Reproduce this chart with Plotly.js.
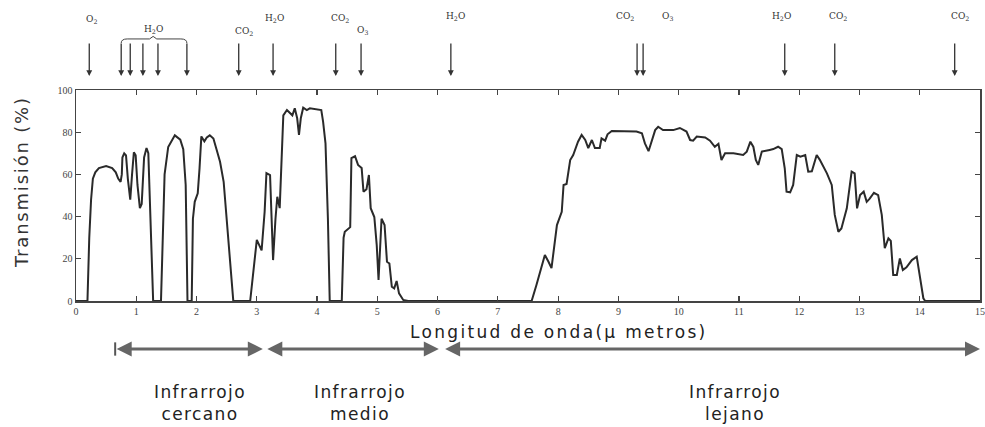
<!DOCTYPE html>
<html>
<head>
<meta charset="utf-8">
<script src="https://cdn.plot.ly/plotly-3.0.1.min.js"></script>
<style>
html,body{margin:0;padding:0;background:#fff;}
#chart{width:985px;height:427px;}
.annotation[data-index="29"] text, .annotation[data-index="31"] text, .annotation[data-index="33"] text {letter-spacing:1.4px;}
.annotation[data-index="34"] text {letter-spacing:2.3px;}
.annotation[data-index="35"] text {letter-spacing:1.8px;}
</style>
</head>
<body>
<div id="chart"></div>
<script>
// Wavelength (µm) and transmission (%)
const wavelength = [
  0, 0.19, 0.22, 0.25, 0.28, 0.32, 0.38, 0.5, 0.6, 0.66, 0.7, 0.74, 0.76, 0.77, 0.8, 0.83, 0.86, 0.9, 0.93, 0.96, 0.99, 1.02, 1.06, 1.09, 1.13, 1.17, 1.2, 1.23, 1.28,
  1.41, 1.44, 1.47, 1.53, 1.64, 1.73, 1.78, 1.82, 1.85,
  1.92, 1.94, 1.97, 2.02, 2.05, 2.08, 2.13, 2.17, 2.22, 2.28, 2.33, 2.39, 2.45, 2.5, 2.54, 2.61,
  2.89, 2.94, 3.0, 3.04, 3.08, 3.13, 3.16, 3.22, 3.25, 3.27, 3.31, 3.34, 3.38, 3.41, 3.44, 3.5, 3.55, 3.59, 3.63, 3.67, 3.7, 3.73, 3.77, 3.83, 3.88, 3.99, 4.07, 4.1, 4.14, 4.18, 4.21,
  4.41, 4.44, 4.46, 4.52, 4.55, 4.57, 4.63, 4.68, 4.74, 4.77, 4.82, 4.86, 4.89, 4.95, 4.99, 5.02, 5.04, 5.07, 5.12, 5.16, 5.2, 5.24, 5.28, 5.32, 5.36, 5.43, 5.51,
  7.56, 7.64, 7.73, 7.78, 7.84, 7.89, 7.98, 8.06, 8.09, 8.14, 8.2, 8.25, 8.33, 8.39, 8.45, 8.5, 8.56, 8.61, 8.69, 8.72, 8.78, 8.82, 8.89, 9.08, 9.3, 9.39, 9.44, 9.5, 9.55, 9.61, 9.66, 9.74, 9.91, 10.02, 10.13, 10.19, 10.24, 10.3, 10.44, 10.52, 10.6, 10.66, 10.71, 10.77,
  10.91, 11.07, 11.13, 11.19, 11.24, 11.28, 11.32, 11.38, 11.51, 11.57, 11.65, 11.71, 11.76, 11.79, 11.85, 11.9, 11.96, 12.02, 12.1, 12.15, 12.21, 12.29, 12.34, 12.46, 12.54, 12.59, 12.65, 12.7, 12.79, 12.87, 12.92, 12.96, 13.01, 13.07, 13.12, 13.17, 13.24, 13.31, 13.37, 13.42, 13.48, 13.52, 13.56, 13.62, 13.67, 13.72, 13.78, 13.87, 13.95, 13.99, 14.06, 14.09, 15
];
const transmission = [
  0, 0, 30, 48, 58, 61, 63, 64, 63, 61, 58, 56.5, 60, 68, 70, 69, 58, 48, 60, 70.5, 69, 55, 44, 46, 68, 72.5, 70, 45, 0,
  0, 35, 60, 73, 78.5, 76.5, 72, 55, 0,
  0, 39, 47, 51, 63, 78, 75.7, 77.5, 78.5, 77, 72, 66, 56.5, 39, 23, 0,
  0, 13.9, 29, 26.5, 24, 42.3, 60.6, 59.7, 39, 19.4, 39, 49.4, 44, 70.8, 88, 90.5, 89.3, 88, 91.3, 86.6, 78.7, 86.6, 91.6, 90.5, 91.3, 91, 90.5, 85, 74.7, 39, 0,
  0, 30, 32.8, 34.4, 35, 67.7, 68.6, 64.5, 63, 51.8, 53, 59.7, 44, 39.8, 26.5, 10, 23.7, 39, 36, 18.6, 17.8, 6.8, 6, 9.5, 3.6, 0.5, 0,
  0, 7.6, 17, 21.8, 18.6, 15.6, 36, 42.3, 55, 55.5, 66.8, 69.2, 75.5, 78.7, 76.3, 72.5, 76.3, 72.5, 72.5, 77.1, 76, 79, 80.6, 80.6, 80.3, 79.5, 74.7, 71, 75.5, 81, 82.6, 81, 81, 82, 80.3, 76.3, 76, 77.9, 77.5, 76, 73.1, 74.5, 66.8, 70,
  70, 69.2, 70.8, 75.5, 73, 66.8, 64.5, 70.8, 71.6, 72, 73.1, 72, 62.9, 51.8, 51.5, 55, 69.2, 68.4, 69.2, 61.3, 61.5, 69.2, 67, 60.5, 55, 40.8, 32.8, 34.4, 43.9, 61.3, 60.5, 43.9, 50.2, 51.8, 47, 48.5, 51.3, 50.2, 40.8, 25, 29.7, 28.5, 12.3, 12.3, 20.2, 14.7, 16, 19.4, 21, 13.9, 1.3, 0, 0
];

// Absorbing gases marked above the chart
const gasNames = ["O<sub>2</sub>", "H<sub>2</sub>O", "CO<sub>2</sub>", "H<sub>2</sub>O", "CO<sub>2</sub>", "O<sub>3</sub>", "H<sub>2</sub>O", "CO<sub>2</sub>", "O<sub>3</sub>", "H<sub>2</sub>O", "CO<sub>2</sub>", "CO<sub>2</sub>"];
const gasLabelX = [0.25, 1.28, 2.79, 3.30, 4.38, 4.75, 6.29, 9.11, 9.81, 11.71, 12.64, 14.67];
const absorptionLines = [0.22, 0.75, 0.90, 1.11, 1.36, 1.84, 2.70, 3.27, 4.31, 4.73, 6.22, 9.31, 9.41, 11.76, 12.59, 14.58];

// Infrared regions
const regionNames = ["Infrarrojo<br>cercano", "Infrarrojo<br>medio", "Infrarrojo<br>lejano"];
const regionStart = [0.65, 3.15, 6.1];
const regionEnd = [3.1, 6.02, 15.0];
const regionLabelX = [2.06, 4.71, 10.93];

// paper-y positions for the label rows (layout only)
const labelRowY = [1.334, 1.289, 1.275, 1.341, 1.341, 1.280, 1.346, 1.346, 1.346, 1.346, 1.346, 1.346];

const annotations = [];
const shapes = [];

gasNames.forEach((g, i) => {
  annotations.push({
    x: gasLabelX[i], y: labelRowY[i], xref: 'x', yref: 'paper', yanchor: 'middle', xanchor: 'center',
    text: g, showarrow: false,
    font: {family: 'DejaVu Serif', size: 9, color: '#333'}
  });
});
absorptionLines.forEach(w => {
  annotations.push({
    x: w, y: 1.066, xref: 'x', yref: 'paper',
    ax: 0, ay: -34, axref: 'pixel', ayref: 'pixel',
    text: '', showarrow: true, arrowhead: 2, arrowsize: 0.9, arrowwidth: 1.3, arrowcolor: '#333'
  });
});
// H2O bracket
shapes.push({
  type: 'path', xref: 'x', yref: 'paper',
  path: 'M 0.75 1.222 Q 0.75 1.242 0.85 1.242 L 1.22 1.242 L 1.28 1.254 L 1.34 1.242 L 1.74 1.242 Q 1.84 1.242 1.84 1.222',
  line: {color: '#444', width: 1}
});

regionNames.forEach((r, i) => {
  annotations.push({
    x: regionEnd[i], y: -0.2275, xref: 'x', yref: 'paper',
    ax: regionStart[i], ay: 0, axref: 'x', ayref: 'pixel',
    text: '', showarrow: true, arrowside: 'end+start', arrowhead: 2, arrowsize: 1, arrowwidth: 3, arrowcolor: '#666'
  });
  annotations.push({
    x: regionLabelX[i], y: -0.485, xref: 'x', yref: 'paper', yanchor: 'middle', xanchor: 'center',
    text: r, showarrow: false,
    font: {family: 'DejaVu Sans', size: 17, color: '#222'}
  });
});
shapes.push({type: 'line', xref: 'x', yref: 'paper', x0: regionStart[0], x1: regionStart[0], y0: -0.196, y1: -0.259, line: {color: '#555', width: 2}});

annotations.push({
  x: 8.01, y: -0.147, xref: 'x', yref: 'paper', yanchor: 'middle', xanchor: 'center', text: 'Longitud de onda(µ metros)', showarrow: false,
  font: {family: 'DejaVu Sans', size: 17, color: '#222'}
});
annotations.push({
  x: -0.06, y: 0.565, xref: 'paper', yref: 'paper', yanchor: 'middle', xanchor: 'center', text: 'Transmisión (%)', showarrow: false, textangle: -90,
  font: {family: 'DejaVu Sans', size: 18, color: '#333'}
});

const trace = {
  x: wavelength, y: transmission, type: 'scatter', mode: 'lines',
  line: {color: '#2a2a2a', width: 2}, hoverinfo: 'skip'
};

const layout = {
  width: 985, height: 427,
  margin: {l: 76, r: 5, t: 90, b: 126},
  paper_bgcolor: '#fff', plot_bgcolor: '#fff',
  showlegend: false,
  xaxis: {
    range: [0, 15], tickvals: [0,1,2,3,4,5,6,7,8,9,10,11,12,13,14,15],
    ticks: 'inside', ticklen: 5, tickwidth: 1.2, tickcolor: '#444',
    showline: true, linecolor: '#444', linewidth: 1.5, mirror: 'allticks',
    showgrid: false, zeroline: false,
    tickfont: {family: 'Liberation Serif', size: 10, color: '#444'}
  },
  yaxis: {
    range: [0, 100], tickvals: [0,20,40,60,80,100],
    ticks: 'inside', ticklen: 5, tickwidth: 1.2, tickcolor: '#444',
    showline: true, linecolor: '#444', linewidth: 1.5, mirror: 'allticks',
    showgrid: false, zeroline: false,
    tickfont: {family: 'Liberation Serif', size: 10, color: '#444'}
  },
  annotations: annotations,
  shapes: shapes
};

Plotly.newPlot('chart', [trace], layout, {staticPlot: true});
</script>
</body>
</html>
